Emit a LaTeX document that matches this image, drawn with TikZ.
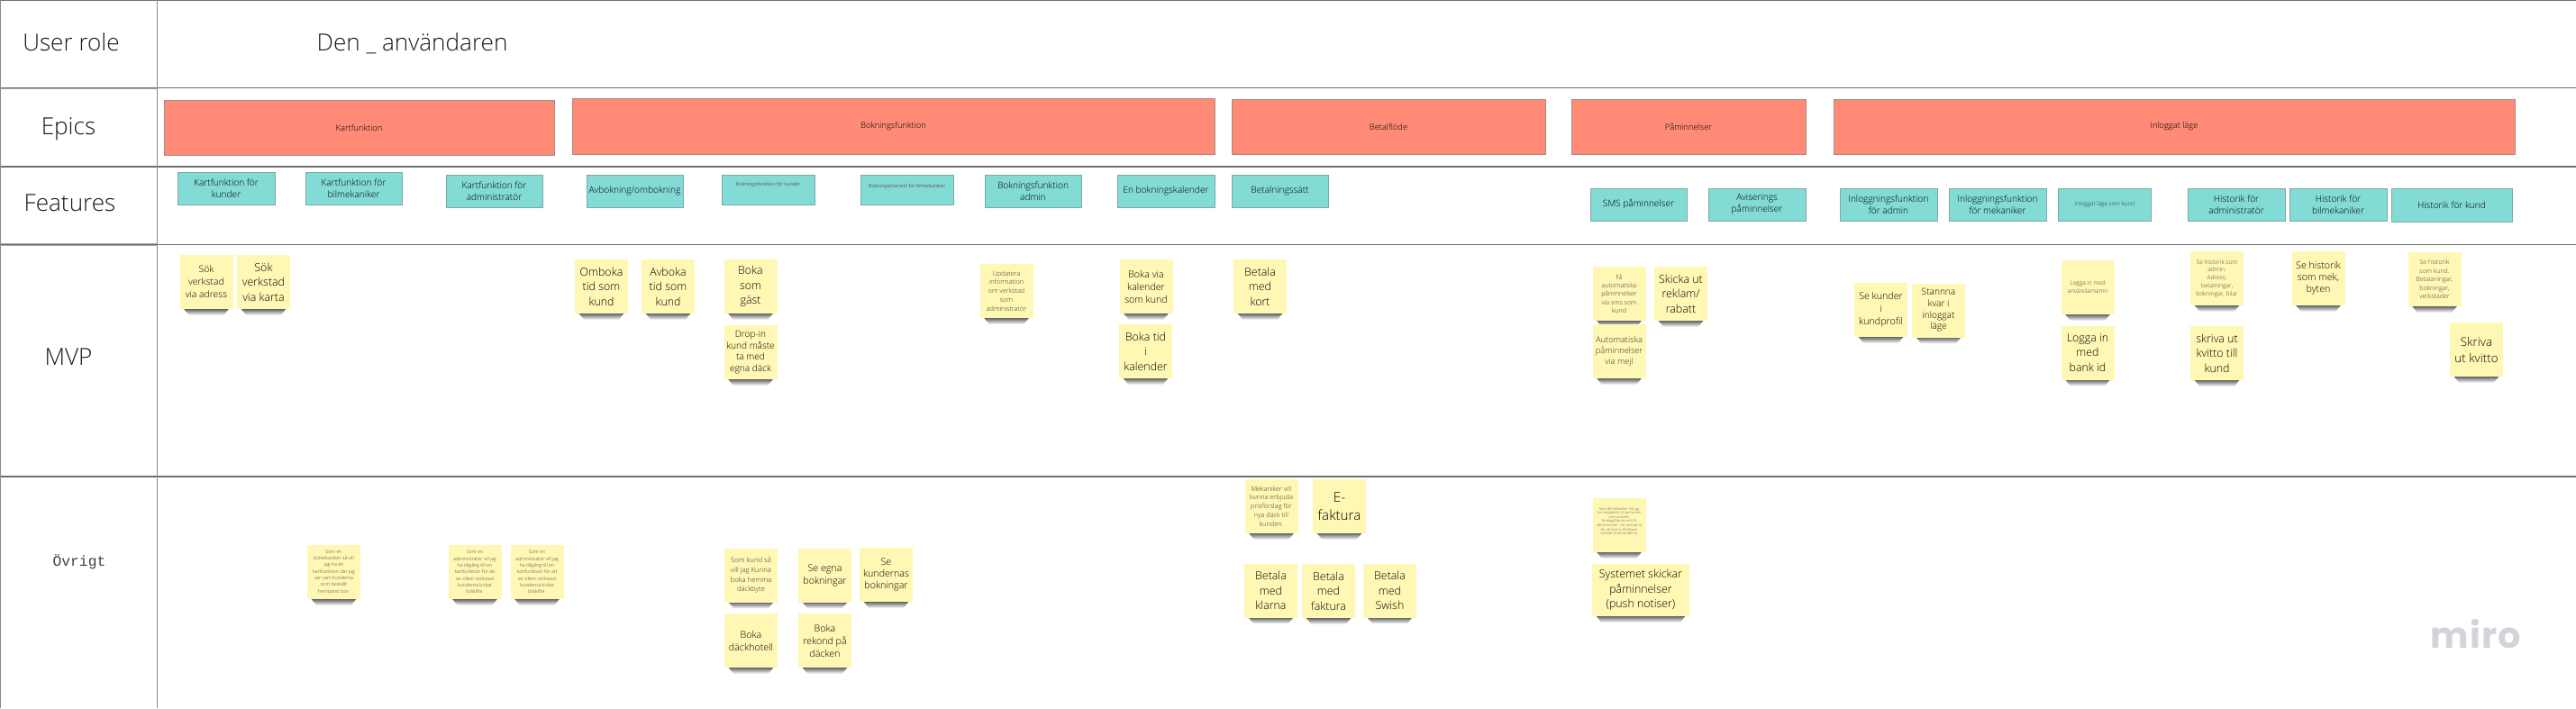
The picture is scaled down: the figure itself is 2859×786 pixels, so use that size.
\documentclass[tikz,border=0pt]{standalone}
\usepackage{fontspec}
\setmainfont{Open Sans Light}
\newfontfamily\monofam{Liberation Mono}
\newfontfamily\arialfam{Liberation Sans}
\newfontfamily\logofam[LetterSpace=3]{Poppins}
\usetikzlibrary{backgrounds}

\definecolor{epicred}{HTML}{FF8A75}
\definecolor{epicline}{HTML}{A88A84}
\definecolor{featteal}{HTML}{82DBD4}
\definecolor{featline}{HTML}{7FA8A6}
\definecolor{stickyyellow}{HTML}{FFF8B4}
\definecolor{gridgray}{HTML}{707070}
\definecolor{logogray}{HTML}{D3D3DB}

\tikzset{
  fs/.style 2 args={font=\fontsize{#1}{#2}\selectfont},
  wh/.style 2 args={minimum width=#1*0.75pt, minimum height=#2*0.75pt},
  rowlabel/.style={inner sep=0pt, text=black!90, fs={19.6}{24}},
  epic/.style={draw=epicline, fill=epicred, line width=0.7pt, inner sep=0pt, text=black, fs={7}{9}},
  feature/.style={draw=featline, fill=featteal, line width=0.7pt, inner sep=0pt, align=center, text=black, fs={7.6}{9.8}},
  tinyfeat/.style 2 args={feature, font=\arialfam\fontsize{#1}{#2}\selectfont, text=black!60},
  sticky/.style={fill=stickyyellow, inner sep=0pt, align=center, text=black, wh={59}{60}},
  large/.style={sticky, fs={9.3}{12.4}},
  mid/.style={sticky, fs={8}{10.5}},
  tight/.style={sticky, fs={7.6}{9.5}},
  fine/.style={sticky, fs={5.5}{7.4}, text=black!80},
  wee/.style={sticky, fs={4.9}{6.8}, text=black!75},
  story/.style={sticky, fs={4}{5.5}, text=black!75},
  dust/.style={sticky, fs={3}{3.4}, text=black!70},
  gridline/.style={draw=gridgray, line width=1.1pt},
  stickyshadow/.style={top color=black!70, bottom color=white, shading angle=0},
}

\begin{document}
\begin{tikzpicture}[x=0.75pt,y=0.75pt,yscale=-1,xscale=1]
\useasboundingbox (0,0) rectangle (2859,786);

% rows
\draw [gridline] (0,0.5) -- (2859,0.5);
\draw [draw=black!35, line width=1.6pt] (0,98) -- (174,98);
\draw [draw=black!35, line width=1.6pt] (0,271.5) -- (174,271.5);
\draw [gridline] (0,97.5) -- (2859,97.5);
\draw [gridline] (0,185) -- (2859,185);
\draw [gridline] (0,271.5) -- (2859,271.5);
\draw [gridline] (0,529) -- (2859,529);
\draw [draw=black!45, line width=0.8pt] (174.5,0) -- (174.5,786);
\draw [draw=black!45, line width=0.8pt] (0.5,0) -- (0.5,786);

\node [rowlabel] (userrole) at (79,50) {\strut User role};
\node [rowlabel] (anvandaren) at (457.5,50) {\strut Den \_ användaren};
\node [rowlabel] (epics) at (76,143) {\strut Epics};
\node [rowlabel] (features) at (77.5,228) {\strut Features};
\node [rowlabel] (mvp) at (76,399) {\strut MVP};
\node [rowlabel, text=black!75, font=\monofam\fontsize{12.2}{14}\selectfont] (ovrigt) at (88,625) {\strut Övrigt};

% epics
\node [epic, wh={433}{61}] (kart) at (398.5,141.5) {Kartfunktion};
\node [epic, wh={713}{62}] (bokning) at (991.5,140) {Bokningsfunktion};
\node [epic, wh={348}{61}] (betal) at (1541,140.5) {Betalflöde};
\node [epic, wh={260}{61}] (paminn) at (1874,140.5) {Påminnelser};
\node [epic, wh={756}{61}] (inlogg) at (2413,140.5) {Inloggat läge};

% features
\node [feature, wh={108}{36}] (fkartkund) at (251,209) {Kartfunktion för\\kunder};
\node [feature, wh={107}{36}] (fkartmek) at (392.5,209) {Kartfunktion för\\bilmekaniker};
\node [feature, wh={107}{36}] (fkartadm) at (548.5,212) {Kartfunktion för\\administratör};
\node [feature, wh={107}{36}] (favbok) at (704.5,212) {Avbokning/ombokning};
\node [tinyfeat={4.3}{9.5}, wh={103}{33}] (fbokkund) at (852.5,210.5) {Bokningsfunktion för kunder\\:};
\node [tinyfeat={4.3}{6.5}, wh={103}{33}] (fbokmek) at (1006.5,210.5) {Bokningsöversikt för bilmekaniker\\~};
\node [feature, wh={107}{36}] (fbokadm) at (1146.5,212) {Bokningsfunktion\\admin};
\node [feature, wh={108}{36}] (fkalender) at (1294,212) {En bokningskalender};
\node [feature, wh={107}{36}] (fbetal) at (1420.5,212) {Betalningssätt};
\node [feature, wh={107}{36}] (fsms) at (1818.5,227) {SMS påminnelser};
\node [feature, wh={108}{36}] (favis) at (1950,227) {Aviserings\\påminnelser};
\node [feature, wh={108}{36}] (floggadm) at (2096,227) {Inloggningsfunktion\\för admin};
\node [feature, wh={108}{36}] (floggmek) at (2217,227) {Inloggningsfunktion\\för mekaniker};
\node [feature, wh={103}{36}, fs={4.8}{6}, text=black!80] (floggkund) at (2336,227) {Inloggat läge som kund};
\node [feature, wh={108}{36}] (fhistadm) at (2482,227) {Historik för\\administratör};
\node [feature, wh={108}{36}] (fhistmek) at (2595,227) {Historik för\\bilmekaniker};
\node [feature, wh={134}{37}] (fhistkund) at (2721,227.5) {Historik för kund};

% mvp
\node [mid, fs={7.8}{10.5}] (s1) at (229,313) {Sök\\verkstad\\via adress};
\node [large] (s2) at (292.5,313) {Sök\\verkstad\\via karta};
\node [large] (s3) at (667.5,318) {Omboka\\tid som\\kund};
\node [large] (s4) at (741.5,318) {Avboka\\tid som\\kund};
\node [large] (s5) at (833,318) {Boka\\som\\gäst};
\node [tight] (s6) at (833,391) {Drop-in\\kund måste\\ta med\\egna däck};
\node [fine] (s7) at (1117,323) {Updatera\\information\\om verkstad\\som\\administratör};
\node [mid] (s8) at (1272,318) {Boka via\\kalender\\som kund};
\node [large] (s9) at (1271.5,390) {Boka tid\\i\\kalender};
\node [large] (s10) at (1398.5,318) {Betala\\med\\kort};
\node [fine, fs={5.3}{7}] (s11) at (1797,326) {Få\\automatiska\\påminnelser\\via sms som\\kund};
\node [large] (s12) at (1865.5,326) {Skicka ut\\reklam/\\rabatt};
\node [mid, fs={7}{8.8}, text=black!80] (s13) at (1797,390) {Automatiska\\påminnelser\\via mejl};
\node [mid] (s14) at (2087.5,344) {Se kunder\\i\\kundprofil};
\node [tight] (s15) at (2151.5,344.5) {Stannna\\kvar i\\inloggat\\läge};
\node [wee] (s16) at (2317,319) {Logga in med\\användarnamn};
\node [large] (s17) at (2317,391.5) {Logga in\\med\\bank id};
\node [wee, fs={5}{6.6}] (s18) at (2460.5,309) {Se historik som\\admin.\\Adress,\\betalningar,\\bokningar, bilar};
\node [large] (s19) at (2460.5,392) {skriva ut\\kvitto till\\kund};
\node [mid, fs={8}{9.8}] (s20) at (2573,309) {Se historik\\som mek,\\byten};
\node [wee, fs={5.3}{7.2}] (s21) at (2702,310) {Se historik\\som kund.\\Betalaningar,\\bokningar,\\verkstäder};
\node [sticky, fs={10}{13.5}] (s22) at (2748.5,388) {Skriva\\ut kvitto};

% ovrigt
\node [story] (o1) at (370.5,635) {Som en\\bilmekaniker så vill\\jag ha en\\kartfunktion där jag\\ser vart Kunderna\\som beställt\\hemtjänst bor.};
\node [story] (o2) at (527,635) {Som en\\administratör vill jag\\ha tillgång till en\\kartfunktion för att\\se vilken verkstad\\kunderna bokat\\bilskifte.};
\node [story] (o3) at (596,635) {Som en\\administratör vill jag\\ha tillgång till en\\kartfunktion för att\\se vilken verkstad\\kunderna bokat\\bilskifte.};
\node [fine, fs={5.8}{8}] (o4) at (833.5,638.5) {Som kund så\\vill jag Kunna\\boka hemma\\däckbyte};
\node [mid] (o5) at (915.5,638.5) {Se egna\\bokningar};
\node [mid, fs={8}{9.8}] (o6) at (983.5,638) {Se\\kundernas\\bokningar};
\node [mid] (o7) at (833.5,711) {Boka\\däckhotell};
\node [mid] (o8) at (915.5,711) {Boka\\rekond på\\däcken};
\node [fine] (o9) at (1411,562) {Mekaniker vill\\kunna erbjuda\\prisförslag för\\nya däck till\\kunden.};
\node [sticky, fs={11.4}{15}] (o10) at (1486.5,562) {E-\\faktura};
\node [large] (o11) at (1410.5,655.5) {Betala\\med\\klarna};
\node [large] (o12) at (1474.5,656) {Betala\\med\\faktura};
\node [large] (o13) at (1542.5,655.5) {Betala\\med\\Swish};
\node [dust] (o14) at (1797,583) {Som Bilmekaniker Vill jag\\ha mejladress till personen\\som ansöker\\företagsfakura och till\\administratör i en samlad vy\\för att kunna få tillbara\\kontakt med kunderna\\~\\~};
\node [large, wh={108}{58}] (o15) at (1821,655) {Systemet skickar\\påminnelser\\(push notiser)};

% shadows under the stickies
\begin{scope}[on background layer]
\foreach \n in {s1,s2,s3,s4,s5,s6,s7,s8,s9,s10,s11,s12,s13,s14,s15,s16,s17,s18,s19,s20,s21,s22,o1,o2,o3,o4,o5,o6,o7,o8,o9,o10,o11,o12,o13,o14,o15}
  \shade [stickyshadow] ([xshift=3pt,yshift=-1pt]\n.south west) -- ([xshift=-3pt,yshift=-1pt]\n.south east) -- ([xshift=-8pt,yshift=5pt]\n.south east) -- ([xshift=8pt,yshift=5pt]\n.south west) -- cycle;
\end{scope}

\node [inner sep=0pt, text=logogray, font=\logofam\bfseries\fontsize{30}{36}\selectfont] (miro) at (2748,704) {miro};

\end{tikzpicture}
\end{document}
